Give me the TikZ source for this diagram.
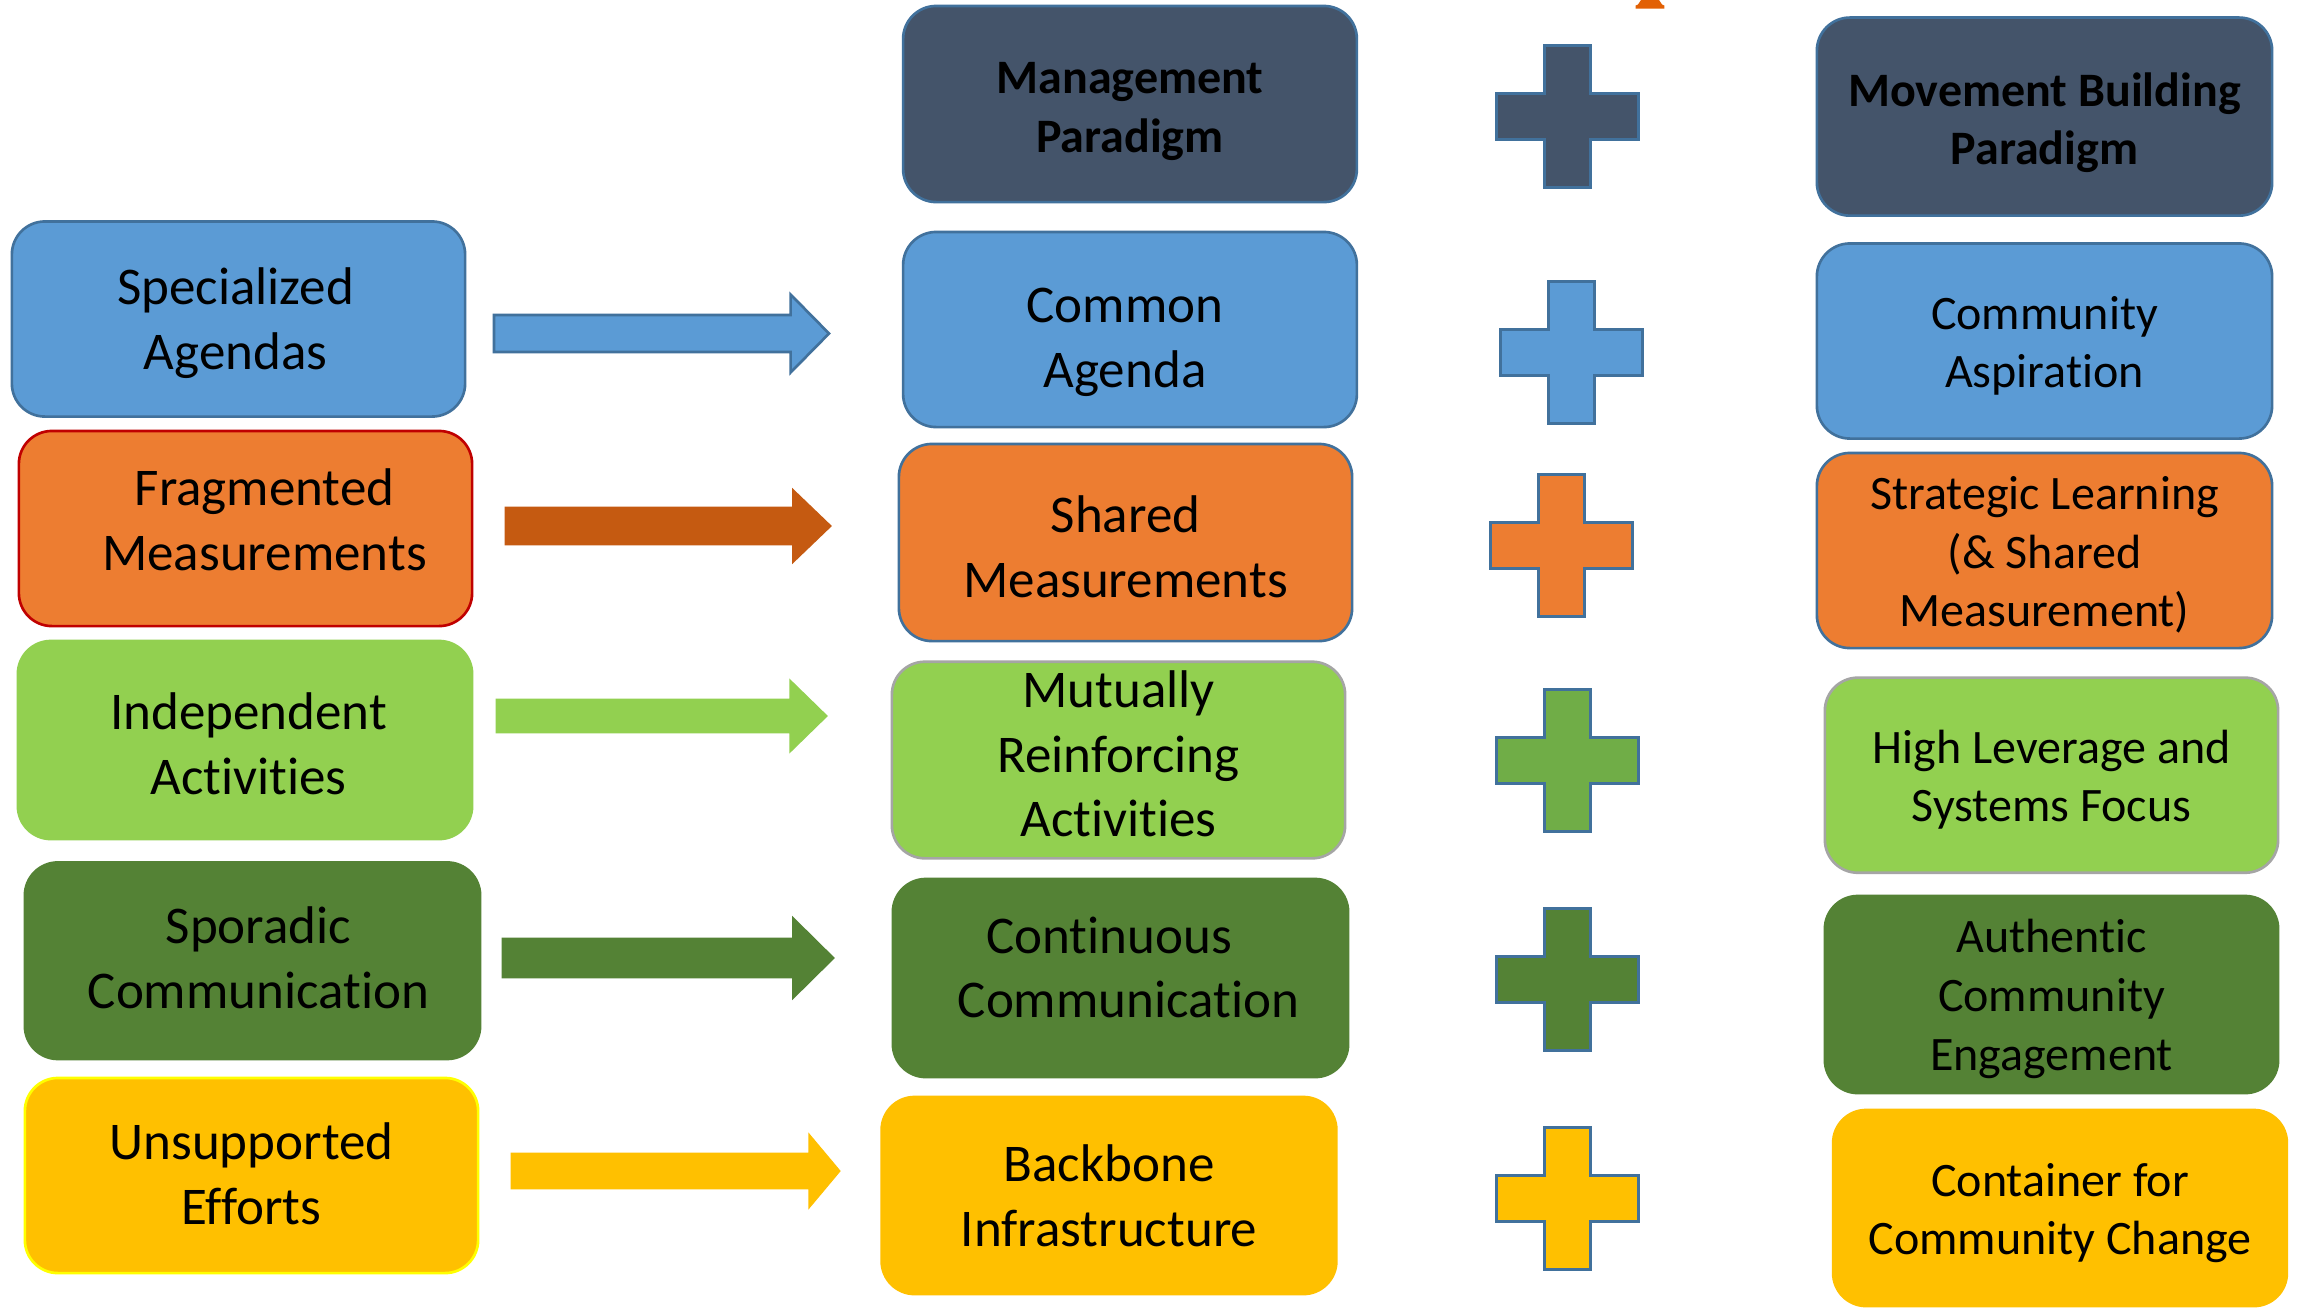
\documentclass[tikz,border=0pt]{standalone}
\usepackage{fontspec}
\setmainfont{Carlito}[Ligatures=NoCommon]
\definecolor{cdark}{HTML}{44546A}
\definecolor{cblue}{HTML}{5B9BD5}
\definecolor{corange}{HTML}{ED7D31}
\definecolor{clgreen}{HTML}{92D050}
\definecolor{cdgreen}{HTML}{548235}
\definecolor{cyellow}{HTML}{FFC000}
\definecolor{cblo}{HTML}{41719C}
\definecolor{cred}{HTML}{C00000}
\definecolor{cgray}{HTML}{A5A5A5}
\definecolor{carrowor}{HTML}{C55A11}
\definecolor{cplusg}{HTML}{70AD47}
\definecolor{cyelo}{HTML}{FFFF00}
\definecolor{ctopor}{RGB}{226,96,4}
\newcommand\bigtxt{\fontsize{15.08}{18.4}\selectfont}
\newcommand\smtxt{\fontsize{13.66}{16.66}\selectfont}
\newcommand\barrow[8]{\filldraw[fill=#1,draw=#2,line width=0.75pt,line join=miter] (#3,#6-#7) -- (#4,#6-#7) -- (#4,#6-#8) -- (#5,#6) -- (#4,#6+#8) -- (#4,#6+#7) -- (#3,#6+#7) -- cycle;}
\newcommand\plusshape[3]{\filldraw[fill=#1,draw=cblo,line width=0.85pt,line join=miter] (#2-23,#3-71) -- (#2+23,#3-71) -- (#2+23,#3-23) -- (#2+71,#3-23) -- (#2+71,#3+23) -- (#2+23,#3+23) -- (#2+23,#3+71) -- (#2-23,#3+71) -- (#2-23,#3+23) -- (#2-71,#3+23) -- (#2-71,#3-23) -- (#2-23,#3-23) -- cycle;}
\tikzset{
  box/.style={rounded corners=0.33cm, inner sep=0pt, line width=0.75pt,
    minimum width=4.54cm, minimum height=1.96cm},
  lbl/.style={align=center, inner sep=0pt, text=black, font=\bigtxt},
  rlbl/.style={align=center, inner sep=0pt, text=black, font=\smtxt},
  hlbl/.style={align=center, inner sep=0pt, text=black, font=\smtxt\bfseries},
  hbox/.style={box, fill=cdark, draw=cblo}
}
\begin{document}
\begin{tikzpicture}[x=0.01cm,y=-0.01cm]
\useasboundingbox (0,0) rectangle (2300,1308);
\fill[white] (0,0) rectangle (2300,1308);
% top partial orange shape
\fill[ctopor] (1641,0) -- (1659,0) -- (1662,4.5) -- (1664.3,5.5) -- (1664.3,8.7) -- (1635.7,8.7) -- (1635.7,5.5) -- (1638,4.5) -- cycle;
% left column
\node[box, fill=cblue, draw=cblo, minimum width=4.53cm, minimum height=1.95cm,
  label={[lbl, xshift=-0.03cm, yshift=-0.044cm]center:Specialized\\Agendas}] (sa) at (238.5,319) {};
\node[box, fill=corange, draw=cred, minimum width=4.53cm, minimum height=1.95cm,
  label={[lbl, xshift=0.19cm, yshift=0.09cm]center:Fragmented\\Measurements}] (fm) at (245.5,528.5) {};
\node[box, fill=clgreen, draw=clgreen, minimum width=4.54cm, minimum height=1.98cm,
  label={[lbl, xshift=0.035cm, yshift=-0.037cm]center:Independent\\Activities}] (ia) at (245,740) {};
\node[box, fill=cdgreen, draw=cdgreen, minimum width=4.55cm, minimum height=1.965cm,
  label={[lbl, xshift=0.06cm, yshift=0.03cm]center:Sporadic\\Communication}] (sc) at (252.5,960.7) {};
\node[box, fill=cyellow, draw=cyelo, minimum width=4.53cm, minimum height=1.95cm,
  label={[lbl, yshift=0.02cm]center:Unsupported\\Efforts}] (ue) at (251.5,1175.5) {};
% middle column
\node[hbox, minimum width=4.535cm, minimum height=1.96cm,
  label={[hlbl, yshift=-0.073cm]center:Management\\Paradigm}] (mp) at (1130,104) {};
\node[box, fill=cblue, draw=cblo, minimum width=4.535cm, minimum height=1.95cm,
  label={[lbl, xshift=-0.05cm, yshift=-0.125cm]center:Common\\Agenda}] (ca) at (1130,329.5) {};
\node[box, fill=corange, draw=cblo, minimum width=4.53cm, minimum height=1.97cm,
  label={[lbl, yshift=-0.04cm]center:Shared\\Measurements}] (sm) at (1125.5,542.5) {};
\node[box, fill=clgreen, draw=cgray, minimum width=4.53cm, minimum height=1.965cm,
  label={[lbl, yshift=0.06cm]center:Mutually\\Reinforcing\\Activities}] (mr) at (1118.5,760) {};
\node[box, fill=cdgreen, draw=cdgreen, minimum width=4.55cm, minimum height=1.98cm,
  label={[lbl, yshift=0.105cm]center:Continuous\hspace*{0.23cm}\\\hspace*{0.16cm}Communication}] (cc) at (1120.5,978) {};
\node[box, fill=cyellow, draw=cyellow, minimum width=4.545cm, minimum height=1.97cm,
  label={[lbl]center:Backbone\\Infrastructure}] (bi) at (1109,1195.5) {};
% right column
\node[hbox, minimum width=4.55cm, minimum height=1.98cm,
  label={[hlbl, yshift=-0.06cm]center:Movement Building\\Paradigm}] (mb) at (2044.5,116.6) {};
\node[box, fill=cblue, draw=cblo, minimum width=4.55cm, minimum height=1.95cm,
  label={[rlbl, yshift=-0.05cm]center:Community\\Aspiration}] (cas) at (2044.5,341) {};
\node[box, fill=corange, draw=cblo, minimum width=4.55cm, minimum height=1.95cm,
  label={[rlbl, yshift=-0.044cm]center:Strategic Learning\\(\& Shared\\Measurement)}] (sl) at (2044.5,550.5) {};
\node[box, fill=clgreen, draw=cgray, minimum width=4.53cm, minimum height=1.95cm,
  label={[rlbl, yshift=-0.044cm]center:High Leverage and\\Systems Focus}] (hl) at (2051.5,775.2) {};
\node[box, fill=cdgreen, draw=cdgreen, minimum width=4.53cm, minimum height=1.97cm,
  label={[rlbl, yshift=-0.044cm]center:Authentic\\Community\\Engagement}] (ace) at (2051.5,994.5) {};
\node[box, fill=cyellow, draw=cyellow, minimum width=4.535cm, minimum height=1.96cm,
  label={[rlbl, yshift=-0.05cm]center:Container for\\Community Change}] (ccc) at (2060,1208) {};
% arrows
\barrow{cblue}{cblo}{494}{790.6}{829}{333.5}{18.5}{39}
\barrow{carrowor}{carrowor}{506}{793.5}{830}{526}{18}{35}
\barrow{clgreen}{clgreen}{497}{790.6}{826}{716}{16}{34.5}
\barrow{cdgreen}{cdgreen}{503}{793.5}{833}{958}{19}{39}
\barrow{cyellow}{cyellow}{512}{809.7}{839}{1171}{17}{35}
% plus signs
\plusshape{cdark}{1567}{116.8}
\plusshape{cblue}{1571.8}{352.8}
\plusshape{corange}{1561}{545}
\plusshape{cplusg}{1567}{760.5}
\plusshape{cdgreen}{1567}{979}
\plusshape{cyellow}{1567}{1198.5}
\end{tikzpicture}
\end{document}
